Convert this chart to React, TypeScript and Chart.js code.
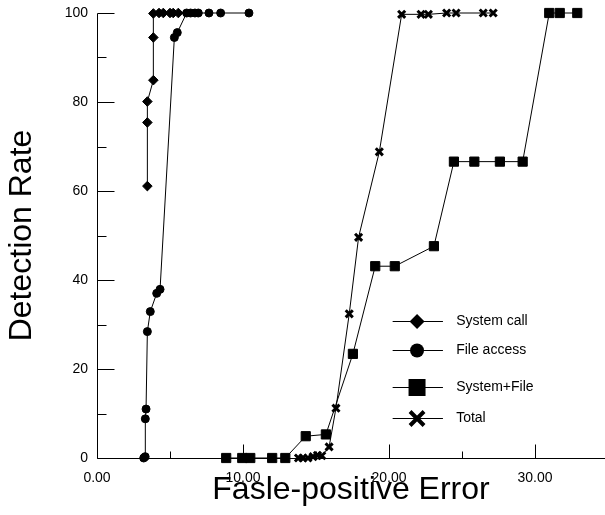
import React, { useEffect, useRef } from "react";
import { Chart, registerables } from "chart.js";

Chart.register(...registerables);

const FONT = "'Liberation Sans', Arial, Helvetica, sans-serif";

const seriesNames = ["System call", "File access", "System+File", "Total"];

const systemCallX = [3.45, 3.45, 3.45, 3.86, 3.86, 3.86, 4.25, 4.54, 5.0, 5.22, 5.57];
const systemCallY = [61.1, 75.4, 80.1, 84.9, 94.5, 99.9, 100, 100, 100, 100, 100];

const fileAccessX = [3.2, 3.3, 3.31, 3.36, 3.45, 3.65, 4.09, 4.32, 5.3, 5.5, 6.14, 6.41, 6.71, 6.94, 7.67, 8.47, 10.41];
const fileAccessY = [0, 0.3, 8.8, 11.0, 28.4, 32.9, 37.0, 37.9, 94.5, 95.6, 100, 100, 100, 100, 100, 100, 100];

const sysFileX = [8.85, 9.95, 10.5, 12.0, 12.9, 14.3, 15.68, 17.53, 19.06, 20.4, 23.08, 24.45, 25.85, 27.6, 29.16, 30.98, 31.7, 32.9];
const sysFileY = [0, 0, 0, 0, 0, 4.9, 5.3, 23.4, 43.1, 43.1, 47.6, 66.6, 66.6, 66.6, 66.6, 100, 100, 100];

const totalX = [13.8, 14.1, 14.45, 14.8, 15.1, 15.4, 15.9, 16.37, 17.28, 17.92, 19.34, 20.87, 22.2, 22.7, 23.95, 24.6, 26.46, 27.14];
const totalY = [0, 0, 0, 0.3, 0.6, 0.5, 2.5, 11.2, 32.4, 49.6, 68.8, 99.7, 99.7, 99.7, 100, 100, 100, 100];

const xMajorTicks = [0, 10, 20, 30];
const xMinorTicks = [5, 15, 25];
const yMajorTicks = [0, 20, 40, 60, 80, 100];
const yMinorTicks = [10, 30, 50, 70, 90];

const xTitle = "Fasle-positive Error";
const yTitle = "Detection Rate";

const zip = (xs: number[], ys: number[]) => xs.map((x, i) => ({ x, y: ys[i] }));

function drawMarker(ctx: CanvasRenderingContext2D, style: string, x: number, y: number, s: number) {
  ctx.save();
  ctx.fillStyle = "#000";
  ctx.strokeStyle = "#000";
  ctx.beginPath();
  if (style === "rectRot") {
    ctx.moveTo(x - s, y);
    ctx.lineTo(x, y - s);
    ctx.lineTo(x + s, y);
    ctx.lineTo(x, y + s);
    ctx.closePath();
    ctx.fill();
  } else if (style === "circle") {
    ctx.arc(x, y, s, 0, Math.PI * 2);
    ctx.fill();
  } else if (style === "rect") {
    ctx.rect(x - s, y - s, 2 * s, 2 * s);
    ctx.fill();
  } else {
    ctx.lineWidth = 4;
    ctx.moveTo(x - s, y - s);
    ctx.lineTo(x + s, y + s);
    ctx.moveTo(x + s, y - s);
    ctx.lineTo(x - s, y + s);
    ctx.stroke();
  }
  ctx.restore();
}

const framePlugin = {
  id: "frame",
  afterDraw(chart: any) {
    const { ctx, chartArea, scales } = chart;
    const xs = scales.x;
    const ys = scales.y;
    const left = Math.round(chartArea.left) + 0.5;
    const bottom = Math.round(chartArea.bottom) + 0.5;
    ctx.save();
    ctx.strokeStyle = "#000";
    ctx.lineWidth = 1;
    ctx.beginPath();
    ctx.moveTo(left, Math.round(ys.getPixelForValue(100)) + 0.5);
    ctx.lineTo(left, bottom);
    ctx.lineTo(chartArea.right, bottom);
    xMajorTicks.forEach((v) => {
      const px = Math.round(xs.getPixelForValue(v)) + 0.5;
      ctx.moveTo(px, bottom);
      ctx.lineTo(px, bottom - 14);
    });
    xMinorTicks.forEach((v) => {
      const px = Math.round(xs.getPixelForValue(v)) + 0.5;
      ctx.moveTo(px, bottom);
      ctx.lineTo(px, bottom - 7);
    });
    yMajorTicks.forEach((v) => {
      const py = Math.round(ys.getPixelForValue(v)) + 0.5;
      ctx.moveTo(left, py);
      ctx.lineTo(left + 17, py);
    });
    yMinorTicks.forEach((v) => {
      const py = Math.round(ys.getPixelForValue(v)) + 0.5;
      ctx.moveTo(left, py);
      ctx.lineTo(left + 9, py);
    });
    ctx.stroke();

    ctx.fillStyle = "#000";
    ctx.font = `32px ${FONT}`;
    ctx.textAlign = "center";
    ctx.textBaseline = "middle";
    ctx.fillText(xTitle, (chartArea.left + chartArea.right) / 2, 490);
    ctx.save();
    ctx.translate(22, (chartArea.top + chartArea.bottom) / 2);
    ctx.rotate(-Math.PI / 2);
    ctx.fillText(yTitle, 0, 0);
    ctx.restore();

    const w = chartArea.right - chartArea.left;
    const h = chartArea.bottom - chartArea.top;
    const rows = [0.692, 0.757, 0.84, 0.911];
    const sizes = [7.5, 7, 8.5, 7];
    const lx0 = chartArea.left + w * 0.582;
    const lx1 = chartArea.left + w * 0.681;
    const mx = chartArea.left + w * 0.63;
    const tx = chartArea.left + w * 0.707;
    ctx.font = `14px ${FONT}`;
    ctx.textAlign = "left";
    chart.data.datasets.forEach((ds: any, i: number) => {
      const y = Math.round(chartArea.top + h * rows[i]) + 0.5;
      ctx.beginPath();
      ctx.lineWidth = 1;
      ctx.moveTo(lx0, y);
      ctx.lineTo(lx1, y);
      ctx.stroke();
      drawMarker(ctx, ds.pointStyle, mx, y, sizes[i]);
      ctx.fillStyle = "#000";
      ctx.fillText(ds.label, tx, y);
    });
    ctx.restore();
  },
};

const zeroPad = (s: any) => {
  s.paddingTop = 0;
  s.paddingBottom = 0;
  s.paddingLeft = 0;
  s.paddingRight = 0;
};

export default function App() {
  const ref = useRef<HTMLCanvasElement | null>(null);
  useEffect(() => {
    if (!ref.current) return;
    const common = {
      showLine: true,
      borderColor: "#000",
      backgroundColor: "#000",
      pointBackgroundColor: "#000",
      pointBorderColor: "#000",
      borderWidth: 1,
      tension: 0,
      clip: false,
    };
    const chart = new Chart(ref.current, {
      type: "scatter",
      data: {
        datasets: [
          { ...common, label: seriesNames[0], data: zip(systemCallX, systemCallY), pointStyle: "rectRot", pointRadius: 4.8, pointBorderWidth: 1 },
          { ...common, label: seriesNames[1], data: zip(fileAccessX, fileAccessY), pointStyle: "circle", pointRadius: 4, pointBorderWidth: 1 },
          { ...common, label: seriesNames[2], data: zip(sysFileX, sysFileY), pointStyle: "rect", pointRadius: 6.5, pointBorderWidth: 1 },
          { ...common, label: seriesNames[3], data: zip(totalX, totalY), pointStyle: "crossRot", pointRadius: 5, pointBorderWidth: 3 },
        ],
      } as any,
      options: {
        responsive: false,
        animation: false,
        devicePixelRatio: 1,
        layout: { autoPadding: false, padding: { top: 13, right: 0, left: 0, bottom: 0 } },
        plugins: { legend: { display: false }, tooltip: { enabled: false } },
        scales: {
          x: {
            type: "linear",
            min: 0,
            max: 34.8,
            grid: { display: false, drawTicks: false, tickLength: 0 },
            border: { display: false },
            afterBuildTicks: (s: any) => {
              s.ticks = xMajorTicks.map((v) => ({ value: v }));
            },
            afterFit: (s: any) => {
              s.height = 57;
              zeroPad(s);
            },
            ticks: {
              color: "#000",
              font: { family: FONT, size: 14 },
              padding: 12,
              maxRotation: 0,
              autoSkip: false,
              callback: (v: any) => Number(v).toFixed(2),
            },
          },
          y: {
            type: "linear",
            min: 0,
            max: 100,
            grid: { display: false, drawTicks: false, tickLength: 0 },
            border: { display: false },
            afterBuildTicks: (s: any) => {
              s.ticks = yMajorTicks.map((v) => ({ value: v }));
            },
            afterFit: (s: any) => {
              s.width = 97;
              zeroPad(s);
            },
            ticks: {
              color: "#000",
              font: { family: FONT, size: 14 },
              padding: 9,
              autoSkip: false,
              callback: (v: any) => String(v),
            },
          },
        },
      } as any,
      plugins: [framePlugin],
    });
    return () => chart.destroy();
  }, []);
  return (
    <div style={{ position: "fixed", left: 0, top: 0, width: 605, height: 515, background: "#fff" }}>
      <canvas ref={ref} width={605} height={515} style={{ display: "block" }} />
    </div>
  );
}
